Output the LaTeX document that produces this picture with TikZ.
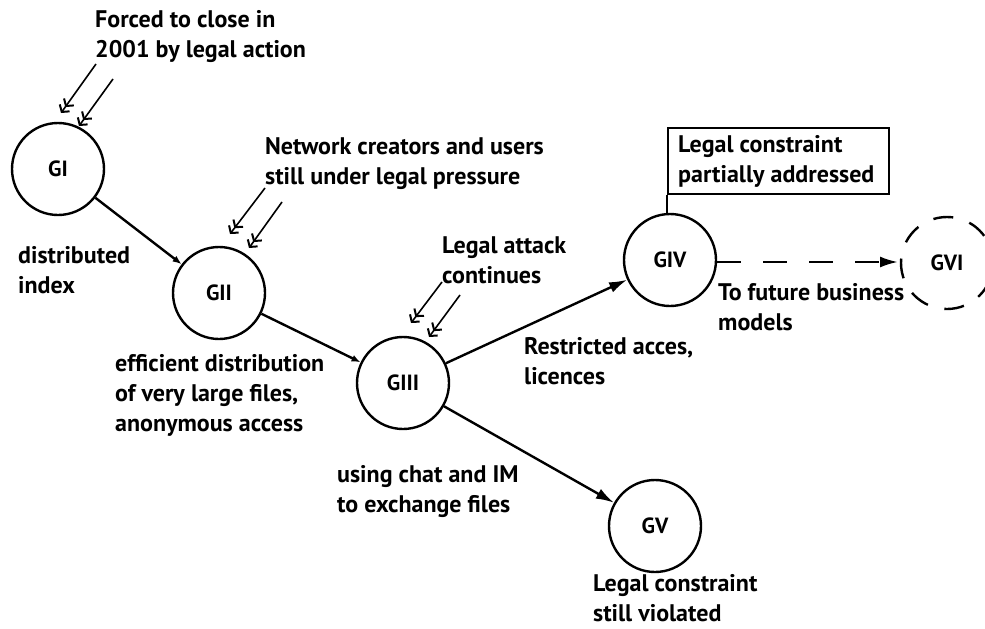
\documentclass[tikz,border=0pt]{standalone}
\usepackage{fontspec}
\setmainfont{PT Sans}
\usetikzlibrary{arrows.meta}
\begin{document}
\begin{tikzpicture}[x=1pt,y=-1pt,
  state/.style={circle,draw,line width=2.4pt,minimum size=92pt,inner sep=0pt,font=\bfseries\fontsize{22}{24}\selectfont},
  lbl/.style={anchor=base west,align=left,inner sep=0pt,font=\bfseries\fontsize{24}{30}\selectfont},
  conn/.style={line width=2.4pt,-{Latex[length=18pt,width=11pt]}},
  connsmall/.style={line width=2.4pt,-{Latex[length=9pt,width=7pt]}},
  legal/.style={line width=1.6pt,-{Straight Barb[length=5pt,width=12pt,line width=2pt]Straight Barb[length=5pt,width=12pt,line width=2pt]}}]
\useasboundingbox (0,0) rectangle (985,629);
% states
\node[state] (gI) at (58,169) {GI};
\node[state] (gII) at (219,293) {GII};
\node[state] (gIII) at (403,383) {GIII};
\node[state] (gIV) at (670,260) {GIV};
\node[state] (gV) at (655,526) {GV};
\node[state,draw=none] (gVI) at (947,263) {GVI};
\draw[line width=2.4pt,dash pattern=on 20pt off 17pt,dash phase=8pt] (gVI.center) circle[radius=46pt];
% labels (anchored at the baseline of the last line)
\node[lbl] (t1) at (95,57) {Forced to close in\\2001 by legal action};
\node[lbl] (t2) at (265,184) {Network creators and users\\still under legal pressure};
\node[lbl] (t3) at (442,283) {Legal attack\\continues};
\node[lbl] (t4) at (18,293) {distributed\\index};
\node[lbl] (t5) at (115,431) {efficient distribution\\of very large files,\\anonymous access};
\node[lbl] (t6) at (524,384) {Restricted acces,\\licences};
\node[lbl] (t7) at (337,512) {using chat and IM\\to exchange files};
\node[lbl] (t8) at (718,330) {To future business\\models};
\node[lbl] (t9) at (593,621) {Legal constraint\\still violated};
\node[draw,line width=1.6pt,minimum width=221pt,minimum height=66pt,anchor=north west] (box) at (667,127) {};
\node[lbl] (t10) at (678,182) {Legal constraint\\partially addressed};
\draw[line width=1.6pt] (box.south west) -- (gIV.north -| box.south west);
% connectors
\draw[connsmall] (gI) -- (gII);
\draw[connsmall] (gII) -- (gIII);
\draw[conn] (gIII) -- (gIV);
\draw[conn] (gIII) -- (gV);
\coordinate (d6) at (898,262);
\draw[conn,dash pattern=on 24pt off 22pt] (gIV.east |- d6) -- (d6);
% legal pressure arrows
\coordinate (a1s) at (96,64); \coordinate (a1e) at (61,113);
\coordinate (b1s) at (113,79); \coordinate (b1e) at (79,126);
\coordinate (a2s) at (265,188); \coordinate (a2e) at (230,234);
\coordinate (b2s) at (282,202); \coordinate (b2e) at (249,248);
\coordinate (a3s) at (442,282); \coordinate (a3e) at (411,323);
\coordinate (b3s) at (460,295); \coordinate (b3e) at (429,337);
\draw[legal] (a1s) -- (a1e);
\draw[legal] (b1s) -- (b1e);
\draw[legal] (a2s) -- (a2e);
\draw[legal] (b2s) -- (b2e);
\draw[legal] (a3s) -- (a3e);
\draw[legal] (b3s) -- (b3e);
\end{tikzpicture}
\end{document}
